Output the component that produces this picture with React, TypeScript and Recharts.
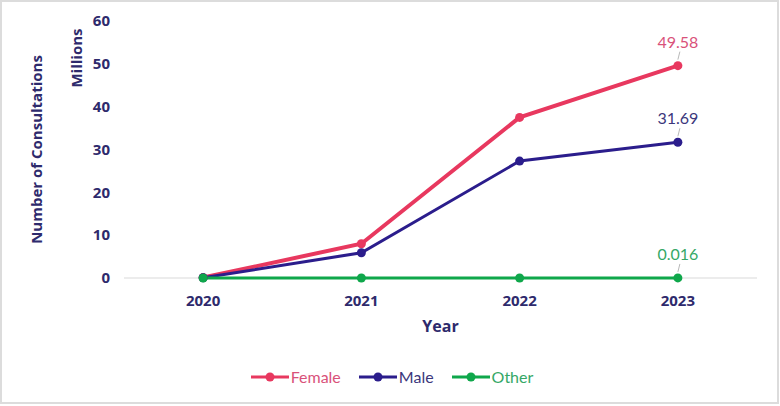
import React from 'react';
import { LineChart, Line, XAxis, YAxis, LabelList, ReferenceLine } from 'recharts';

const years = ['2020', '2021', '2022', '2023'];
const female = [0.1, 8.0, 37.5, 49.58];
const male = [0.05, 5.9, 27.3, 31.69];
const other = [0, 0.004, 0.011, 0.016];
const yTicks = [0, 10, 20, 30, 40, 50, 60];
const lastLabels = { female: '49.58', male: '31.69', other: '0.016' };

const series = [
  { key: 'female', name: 'Female', color: '#e8385f', text: '#d9527a', width: 4, data: female },
  { key: 'male', name: 'Male', color: '#2b1d8c', text: '#3b377c', width: 3, data: male },
  { key: 'other', name: 'Other', color: '#0fa74b', text: '#35a866', width: 3, data: other },
];

const data = years.map((y, i) => ({
  year: y,
  female: female[i],
  male: male[i],
  other: other[i],
}));

const NAVY = '#2e2a6c';

const makeLabel = (key: string, color: string) => (props: any) => {
  const { x, y, index } = props;
  if (index !== years.length - 1) return null;
  return (
    <g>
      <line x1={x + 2} y1={y - 14} x2={x} y2={y - 6} stroke="#a6a6a6" strokeWidth={0.8} />
      <text
        x={x}
        y={y - 18}
        textAnchor="middle"
        fill={color}
        fontFamily="Lato, sans-serif"
        fontSize={16}
      >
        {(lastLabels as any)[key]}
      </text>
    </g>
  );
};

const YTitles = (props: any) => {
  const vb = props.viewBox || { x: 0, y: 21, width: 124, height: 257 };
  const cy = vb.y + vb.height * 0.5;
  return (
    <g fontFamily="'Open Sans', sans-serif" fontWeight={700} fill={NAVY}>
      <text
        x={0}
        y={0}
        transform={`translate(${vb.x + 42}, ${cy}) rotate(-90)`}
        textAnchor="middle"
        fontSize={15}
      >
        Number of Consultations
      </text>
      <text
        x={0}
        y={0}
        transform={`translate(${vb.x + 82}, ${vb.y + 37}) rotate(-90)`}
        textAnchor="middle"
        fontSize={15}
      >
        Millions
      </text>
    </g>
  );
};

const LegendIcon = ({ color }: { color: string }) => (
  <svg width={38} height={12} style={{ display: 'block' }}>
    <line x1={0} y1={6} x2={38} y2={6} stroke={color} strokeWidth={3} />
    <circle cx={19} cy={6} r={4.5} fill={color} />
  </svg>
);

export default function App() {
  return (
    <div style={{ position: 'absolute', left: 0, top: 0, width: 780, height: 406, background: '#fff' }}>
      <div
        style={{
          position: 'absolute',
          left: 0,
          top: 0,
          width: 779,
          height: 404,
          border: '2px solid #dcdcdc',
          boxSizing: 'border-box',
        }}
      />
      <LineChart
        width={780}
        height={406}
        data={data}
        margin={{ top: 21, right: 23, left: 0, bottom: 68 }}
      >
        <XAxis
          dataKey="year"
          scale="band"
          axisLine={false}
          tickLine={false}
          tickMargin={11}
          height={60}
          tick={{ fill: NAVY, fontSize: 15, fontWeight: 700, fontFamily: "'Open Sans', sans-serif" }}
          label={{
            value: 'Year',
            position: 'insideBottom',
            offset: 6,
            fill: NAVY,
            fontSize: 16,
            fontWeight: 700,
            fontFamily: "'Open Sans', sans-serif",
          }}
        />
        <YAxis
          width={124}
          domain={[0, 60]}
          ticks={yTicks}
          axisLine={false}
          tickLine={false}
          tickMargin={8}
          tick={{ fill: NAVY, fontSize: 15, fontWeight: 700, fontFamily: "'Open Sans', sans-serif" }}
          label={<YTitles />}
        />
        <ReferenceLine y={0} stroke="#d9d9d9" strokeWidth={1} />
        {series.map((s) => (
          <Line
            key={s.key}
            type="linear"
            dataKey={s.key}
            name={s.name}
            stroke={s.color}
            strokeWidth={s.width}
            dot={{ r: 4.5, fill: s.color, stroke: s.color, strokeWidth: 0 }}
            activeDot={false}
            isAnimationActive={false}
          >
            <LabelList dataKey={s.key} content={makeLabel(s.key, s.text)} />
          </Line>
        ))}
      </LineChart>
      <div
        style={{
          position: 'absolute',
          left: 0,
          top: 367,
          width: 780,
          display: 'flex',
          justifyContent: 'center',
          alignItems: 'center',
          fontFamily: 'Lato, sans-serif',
          fontSize: 16,
          paddingLeft: 4,
          boxSizing: 'border-box',
        }}
      >
        {series.map((s, i) => (
          <div
            key={s.key}
            style={{ display: 'flex', alignItems: 'center', marginLeft: i === 0 ? 0 : 18, color: s.text }}
          >
            <LegendIcon color={s.color} />
            <span style={{ marginLeft: 2, lineHeight: '20px' }}>{s.name}</span>
          </div>
        ))}
      </div>
    </div>
  );
}
